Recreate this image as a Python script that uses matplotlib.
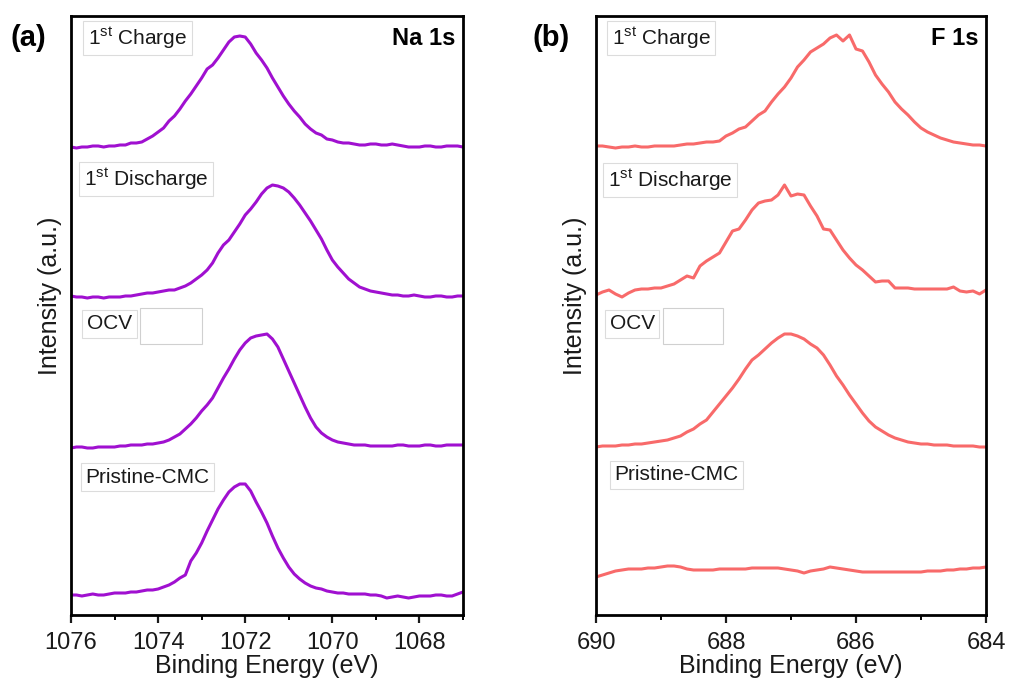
import numpy as np
import matplotlib
matplotlib.use("Agg")
import matplotlib.pyplot as plt
from matplotlib.patches import Rectangle

plt.rcParams["font.family"] = ["Liberation Sans", "DejaVu Sans"]
plt.rcParams["mathtext.fontset"] = "custom"
plt.rcParams["mathtext.rm"] = "Liberation Sans"
plt.rcParams["mathtext.it"] = "Liberation Sans:italic"
plt.rcParams["mathtext.bf"] = "Liberation Sans:bold"

# ---- Na 1s (0.125 eV step, 1076 -> 1067) ----
na_energy = np.arange(1076.0, 1066.99, -0.125)
na_charge = [0, -1, 0, 0, 1, 1, 0, 1,
             1, 2, 2, 4, 4, 5, 8, 11,
             15, 19, 26, 31, 38, 46, 53, 61,
             69, 78, 82, 89, 97, 105, 110, 111,
             110, 103, 94, 87, 79, 69, 60, 51,
             43, 36, 30, 23, 18, 14, 12, 8,
             7, 5, 4, 4, 3, 2, 2, 3,
             3, 2, 2, 3, 2, 1, 0, 0,
             0, 1, 1, 0, 0, 1, 1, 1,
             0]
na_discharge = [1, 0, 0, -1, 0, 0, -1, 0,
                0, 0, 1, 1, 2, 3, 4, 4,
                5, 6, 7, 7, 9, 11, 14, 18,
                22, 27, 34, 44, 52, 57, 65, 73,
                82, 88, 95, 103, 109, 112, 111, 109,
                105, 99, 92, 84, 76, 67, 58, 47,
                37, 30, 24, 18, 14, 10, 8, 6,
                5, 4, 3, 2, 2, 1, 1, 2,
                1, 0, 0, 1, 1, 0, 0, 1,
                1]
na_ocv = [-1, 0, 0, -1, -1, 0, 0, 0,
          0, 1, 1, 2, 2, 2, 3, 3,
          4, 5, 7, 10, 13, 18, 23, 29,
          36, 42, 49, 59, 69, 78, 88, 97,
          104, 109, 111, 112, 113, 108, 100, 88,
          76, 64, 52, 40, 29, 20, 14, 10,
          7, 5, 4, 3, 2, 2, 2, 1,
          1, 1, 1, 1, 2, 2, 1, 1,
          1, 2, 2, 1, 1, 2, 2, 2,
          2]
na_pristine = [0, 0, -1, 0, 1, 0, 0, 1,
               2, 2, 2, 3, 3, 4, 5, 5,
               6, 8, 10, 13, 17, 20, 34, 42,
               52, 64, 75, 86, 95, 103, 108, 111,
               111, 104, 93, 83, 72, 59, 47, 37,
               28, 21, 16, 12, 9, 7, 6, 4,
               3, 2, 2, 1, 1, 1, 1, 0,
               0, -1, -3, -2, -1, -2, -3, -2,
               -1, -1, -1, 0, 0, -1, -1, 1,
               3]
na_offsets = [468, 318, 168, 20]

# ---- F 1s (0.1 eV step, 690 -> 684) ----
f_energy = np.arange(690.0, 683.99, -0.1)
f_charge = [0, 0, -1, -2, -1, -1, 0, -1, -1, 0, 0, 0, 0, 1, 2, 2, 3, 4, 4, 5,
            10, 13, 17, 19, 25, 31, 35, 44, 52, 59, 68, 79, 86, 94, 98, 102, 108, 111, 105, 111,
            97, 95, 84, 71, 62, 54, 44, 37, 31, 24, 18, 14, 11, 8, 6, 4, 3, 2, 1, 1, 0]
f_discharge = [-6, -3, -1, -5, -8, -4, -1, 0, 0, 1, 1, 3, 5, 9, 13, 11, 23, 28, 32, 36,
               47, 58, 60, 69, 79, 86, 88, 89, 94, 104, 93, 95, 94, 83, 73, 60, 59, 49, 39, 31,
               24, 19, 13, 7, 8, 8, 1, 1, 1, 0, 0, 0, 0, 0, 0, 2, -2, -3, -2, -5, -1]
f_ocv = [0, 1, 1, 1, 2, 2, 3, 3, 4, 5, 6, 7, 9, 11, 15, 18, 23, 27, 35, 43,
         51, 59, 68, 78, 87, 92, 98, 104, 109, 113, 113, 111, 108, 103, 99, 92, 82, 71, 62, 52,
         43, 34, 26, 20, 16, 12, 9, 7, 5, 4, 3, 3, 2, 2, 2, 1, 1, 1, 1, 0, 0]
f_pristine = [-7, -5, -3, -1, 0, 1, 1, 1, 2, 2, 3, 4, 4, 3, 1, 0, 0, 0, 0, 1,
              1, 1, 1, 1, 2, 2, 2, 2, 2, 1, 0, -1, -3, -1, 0, 1, 3, 2, 1, 0,
              -1, -2, -2, -2, -2, -2, -2, -2, -2, -2, -2, -1, -1, -1, 0, 0, 1, 1, 2, 2, 3]
f_offsets = [469, 326, 168, 45]

labels = [r"1$^{\mathrm{st}}$ Charge", r"1$^{\mathrm{st}}$ Discharge", "OCV", "Pristine-CMC"]

fig = plt.figure(figsize=(10.11, 6.82), dpi=100)
ax1 = fig.add_axes([71 / 1011, 1 - 615 / 682, 392 / 1011, 599 / 682])
ax2 = fig.add_axes([596 / 1011, 1 - 615 / 682, 390 / 1011, 599 / 682])


def style_axis(ax, xlim, major, minor, tag, lab_pos, blank_box):
    ax.set_xlim(*xlim)
    ax.set_ylim(0, 599)
    ax.set_xticks(major)
    ax.set_xticks(minor, minor=True)
    ax.set_yticks([])
    ax.tick_params(axis="x", which="major", direction="out", length=6, width=1.6,
                   labelsize=17, pad=6, colors="#1a1a1a")
    ax.tick_params(axis="x", which="minor", direction="out", length=3.5, width=1.4)
    for s in ax.spines.values():
        s.set_linewidth(2.0)
    ax.set_xlabel("Binding Energy (eV)", fontsize=18, labelpad=0, color="#1a1a1a")
    ax.set_ylabel("Intensity (a.u.)", fontsize=18, color="#1a1a1a")
    ax.yaxis.set_label_coords(-0.022, 0.533)
    for lab, (x, y) in zip(labels, lab_pos):
        ax.text(x, y, lab, transform=ax.transAxes, fontsize=15, ha="left", va="center",
                color="#1a1a1a",
                bbox=dict(boxstyle="square,pad=0.22", fc="white", ec="#dcdcdc", lw=0.8))
    ax.add_patch(Rectangle(blank_box[:2], blank_box[2], blank_box[3], transform=ax.transAxes,
                           fc="white", ec="#d0d0d0", lw=0.8))
    ax.text(0.98, 0.963, tag, transform=ax.transAxes, fontsize=17, fontweight="bold",
            ha="right", va="center")


for vals, off in zip([na_charge, na_discharge, na_ocv, na_pristine], na_offsets):
    ax1.plot(na_energy, np.array(vals) + off, color="#A010D0", lw=2.2)
for vals, off in zip([f_charge, f_discharge, f_ocv, f_pristine], f_offsets):
    ax2.plot(f_energy, np.array(vals) + off, color="#F86A6A", lw=2.2)

style_axis(ax1, (1076, 1067), [1076, 1074, 1072, 1070, 1068], [1075, 1073, 1071, 1069, 1067],
           "Na 1s",
           [(0.043, 0.963), (0.033, 0.728), (0.041, 0.486), (0.036, 0.230)],
           (0.176, 0.452, 0.158, 0.060))
style_axis(ax2, (690, 684), [690, 688, 686, 684], [689, 687, 685],
           "F 1s",
           [(0.040, 0.963), (0.030, 0.726), (0.035, 0.486), (0.048, 0.234)],
           (0.172, 0.452, 0.154, 0.060))

fig.text(10 / 1011, 1 - 38 / 682, "(a)", fontsize=21, fontweight="bold", va="center")
fig.text(532 / 1011, 1 - 38 / 682, "(b)", fontsize=21, fontweight="bold", va="center")

fig.savefig("out.png", dpi=100)
